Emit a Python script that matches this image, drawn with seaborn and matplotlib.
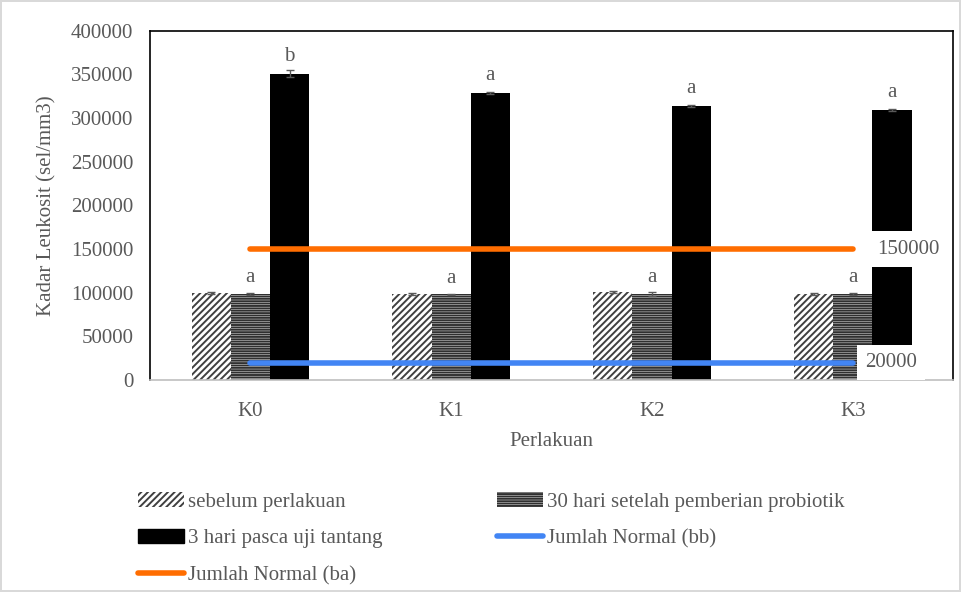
import pandas as pd
import numpy as np
import matplotlib
matplotlib.use('Agg')
import matplotlib.pyplot as plt
import seaborn as sns
from matplotlib.patches import Patch
from matplotlib.lines import Line2D

# ── data ──
groups = ['K0', 'K1', 'K2', 'K3']
series = ['sebelum perlakuan', '30 hari setelah pemberian probiotik', '3 hari pasca uji tantang']
sebelum = [100000, 98500, 101000, 98500]
hari30 = [98500, 98000, 98500, 98500]
pasca = [351000, 328500, 313500, 309500]
err_sebelum = [1000, 800, 1000, 800]
err_hari30 = [1000, 1000, 2500, 1000]
err_pasca = [4000, 1000, 1000, 1000]
letters_30 = ['a', 'a', 'a', 'a']
letters_pasca = ['b', 'a', 'a', 'a']
normal_ba = 150000
normal_bb = 20000

df = pd.DataFrame({
    'Perlakuan': groups * 3,
    'Seri': np.repeat(series, 4),
    'Nilai': sebelum + hari30 + pasca,
})
errs = [err_sebelum, err_hari30, err_pasca]

sns.set_style('white')
plt.rcParams['font.family'] = ['Liberation Serif', 'DejaVu Serif']
plt.rcParams['hatch.linewidth'] = 1.4
txt = '#595959'

fig = plt.figure(figsize=(9.61, 5.92), dpi=100)
fig.patch.set_edgecolor('#d9d9d9')
fig.patch.set_linewidth(1.5)
ax = fig.add_axes([0.156, 0.358, 0.836, 0.590])

sns.barplot(data=df, x='Perlakuan', y='Nilai', hue='Seri', order=groups, hue_order=series,
            errorbar=None, width=0.585, ax=ax, legend=False, saturation=1)

styles = [dict(fc='white', ec='#404040', hatch='/////'),
          dict(fc='white', ec='#303030', hatch='-------'),
          dict(fc='black', ec='black', hatch=None)]
for cont, st, e in zip(ax.containers, styles, errs):
    xs, ys = [], []
    for bar in cont:
        bar.set_facecolor(st['fc'])
        bar.set_edgecolor(st['ec'])
        bar.set_hatch(st['hatch'])
        bar.set_linewidth(0)
        xs.append(bar.get_x() + bar.get_width() / 2)
        ys.append(bar.get_height())
    ax.errorbar(xs, ys, yerr=e, fmt='none', ecolor='#595959', elinewidth=1, capsize=3, zorder=5)

# letters
for i, bar in enumerate(ax.containers[1]):
    ax.text(bar.get_x() + bar.get_width() / 2, bar.get_height() + 8000, letters_30[i],
            ha='center', va='bottom', fontsize=15, color=txt)
for i, bar in enumerate(ax.containers[2]):
    ax.text(bar.get_x() + bar.get_width() / 2, bar.get_height() + 9000, letters_pasca[i],
            ha='center', va='bottom', fontsize=15, color=txt)

# normal ranges
xline = np.arange(len(groups))
ax.plot(xline, [normal_ba] * len(groups), color='#ff6d00', lw=4, solid_capstyle='round', zorder=6)
ax.plot(xline, [normal_bb] * len(groups), color='#4285f4', lw=4, solid_capstyle='round', zorder=6)
ax.text(3.12, normal_ba, f'{normal_ba}', ha='left', va='center', fontsize=15, color=txt, zorder=7,
        bbox=dict(fc='white', ec='none', pad=6))
ax.text(3.06, normal_bb, f'{normal_bb}', ha='left', va='center', fontsize=15, color=txt, zorder=7,
        bbox=dict(fc='white', ec='none', pad=6))

ax.set_ylim(0, 400000)
ax.set_xlim(-0.5, 3.5)
ax.set_yticks(range(0, 400001, 50000))
ax.set_yticklabels([str(v) for v in range(0, 400001, 50000)])
ax.tick_params(axis='both', labelsize=15, colors=txt, length=0)
ax.tick_params(axis='x', pad=16)
ax.tick_params(axis='y', pad=12)
ax.set_xlabel('Perlakuan', fontsize=15, color=txt, labelpad=8)
ax.set_ylabel('Kadar Leukosit (sel/mm3)', fontsize=15, color=txt, labelpad=10)
for s in ['top', 'left', 'right']:
    ax.spines[s].set_color('black')
    ax.spines[s].set_linewidth(1.2)
ax.spines['bottom'].set_color('#bfbfbf')
ax.spines['bottom'].set_linewidth(1.2)

handles = [
    Patch(fc='white', ec='#404040', hatch='/////', lw=0, label=series[0]),
    Patch(fc='black', ec='black', label=series[2]),
    Line2D([], [], color='#ff6d00', lw=4, label='Jumlah Normal (ba)'),
    Patch(fc='white', ec='#303030', hatch='-------', lw=0, label=series[1]),
    Line2D([], [], color='#4285f4', lw=4, label='Jumlah Normal (bb)'),
]
leg = fig.legend(handles=handles, ncol=2, loc='upper left', bbox_to_anchor=(0.135, 0.183),
                 frameon=False, fontsize=15, labelcolor=txt, handlelength=2.2, handletextpad=0.2,
                 columnspacing=5.5, labelspacing=0.83, borderaxespad=0)

fig.savefig('out.png', dpi=100)
